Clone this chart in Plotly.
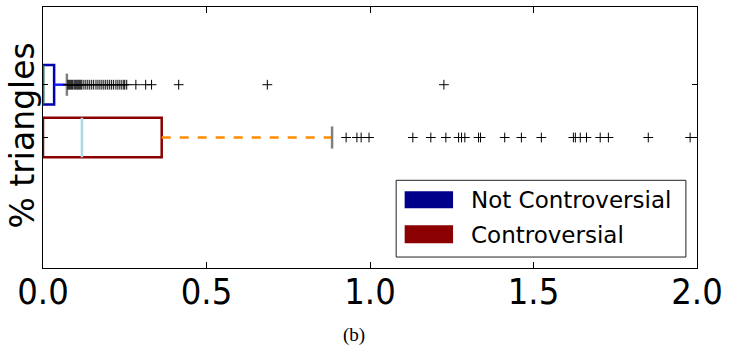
import plotly.graph_objects as go

# ---- data ----
groups = ["Controversial", "Not Controversial"]
positions = [1, 2]
q1 = [0.0, 0.0]
median = [0.119, 0.0]
q3 = [0.363, 0.034]
whisker_low = [0.0, 0.0]
whisker_high = [0.884, 0.073]

outliers_contro = [0.927, 0.960, 0.973, 0.997, 1.131, 1.186, 1.232, 1.271, 1.280,
                   1.290, 1.332, 1.338, 1.412, 1.463, 1.524, 1.622, 1.628, 1.643,
                   1.662, 1.704, 1.729, 1.851, 1.979]
outliers_not = [0.076, 0.079, 0.082, 0.085, 0.088, 0.091, 0.095, 0.098, 0.101, 0.104,
                0.107, 0.110, 0.113, 0.116, 0.119, 0.125, 0.131, 0.137, 0.143, 0.149,
                0.155, 0.162, 0.168, 0.174, 0.180, 0.186, 0.192, 0.198, 0.204, 0.210,
                0.216, 0.223, 0.229, 0.235, 0.241, 0.247, 0.250, 0.256, 0.284, 0.314,
                0.332, 0.415, 0.686, 1.226]
outliers = [outliers_contro, outliers_not]

x_ticks = [0.0, 0.5, 1.0, 1.5, 2.0]
x_tick_labels = ["0.0", "0.5", "1.0", "1.5", "2.0"]

# ---- styles ----
box_colors = ["#8b0000", "#0000b0"]
legend_colors = ["#8b0000", "#00008b"]
median_colors = ["#add8e6", "#00a000"]
whisker_colors = ["#ff8c00", "#1a1aff"]
whisker_dash = ["dash", "solid"]
half = 0.375
cap_half = 0.21

fig = go.Figure()
for i in range(2):
    p = positions[i]
    fig.add_trace(go.Scatter(
        x=[q1[i], q3[i], q3[i], q1[i], q1[i]],
        y=[p - half, p - half, p + half, p + half, p - half],
        mode="lines", line=dict(color=box_colors[i], width=2.5),
        showlegend=False, hoverinfo="skip"))
    fig.add_trace(go.Scatter(
        x=[q3[i], whisker_high[i]], y=[p, p], mode="lines",
        line=dict(color=whisker_colors[i], width=2.5, dash=whisker_dash[i]),
        showlegend=False, hoverinfo="skip"))
    fig.add_trace(go.Scatter(
        x=[whisker_high[i], whisker_high[i]], y=[p - cap_half, p + cap_half],
        mode="lines", line=dict(color="#808080", width=2.5),
        showlegend=False, hoverinfo="skip"))
    fig.add_trace(go.Scatter(
        x=[median[i], median[i]], y=[p - half, p + half], mode="lines",
        line=dict(color=median_colors[i], width=2.5),
        showlegend=False, hoverinfo="skip"))
    fig.add_trace(go.Scatter(
        x=outliers[i], y=[p] * len(outliers[i]), mode="markers",
        marker=dict(symbol="cross-thin", size=7, line=dict(color="black", width=1)),
        showlegend=False, hoverinfo="skip"))

# manual legend (matplotlib-style)
shapes = [dict(type="rect", xref="paper", yref="paper", x0=0.540, x1=0.983,
               y0=0.042, y1=0.336, line=dict(color="#222222", width=1),
               fillcolor="white", layer="above")]
legend_rows = [(1, 0.294, 0.229, 0.260), (0, 0.164, 0.095, 0.126)]
annotations = []
for idx, y1, y0, yt in legend_rows:
    shapes.append(dict(type="rect", xref="paper", yref="paper", x0=0.553, x1=0.627,
                       y0=y0, y1=y1, line=dict(width=0), fillcolor=legend_colors[idx],
                       layer="above"))
    annotations.append(dict(xref="paper", yref="paper", x=0.651, y=yt, text=groups[idx],
                            showarrow=False, xanchor="left", yanchor="middle",
                            font=dict(family="DejaVu Sans", size=23, color="black")))

annotations.append(dict(xref="paper", yref="paper", x=-0.032, y=0.508, text="% triangles",
                        textangle=-90, showarrow=False, xanchor="center", yanchor="middle",
                        font=dict(family="DejaVu Sans", size=33, color="black")))
annotations.append(dict(xref="paper", yref="paper", x=0.476, y=-0.256, text="(b)",
                        showarrow=False, xanchor="center", yanchor="middle",
                        font=dict(family="Liberation Serif", size=19, color="black")))

fig.update_layout(
    width=729, height=350,
    margin=dict(l=43, r=30, t=6, b=82),
    paper_bgcolor="white", plot_bgcolor="white",
    shapes=shapes, annotations=annotations,
    showlegend=False,
    xaxis=dict(range=[0, 2], tickvals=x_ticks, ticktext=x_tick_labels,
               ticks="inside", ticklen=6, tickcolor="black", mirror="ticks",
               showline=True, linecolor="black", linewidth=1.2, showgrid=False,
               zeroline=False, ticklabelstandoff=-8,
               tickfont=dict(family="DejaVu Sans Condensed, DejaVu Sans", size=36,
                             color="black")),
    yaxis=dict(range=[-1.472, 3.472], tickvals=positions, ticktext=["", ""],
               ticks="inside", ticklen=5, tickcolor="black", mirror="ticks",
               showline=True, linecolor="black", linewidth=1.2, showgrid=False,
               zeroline=False),
)

fig.write_html("out.html")
